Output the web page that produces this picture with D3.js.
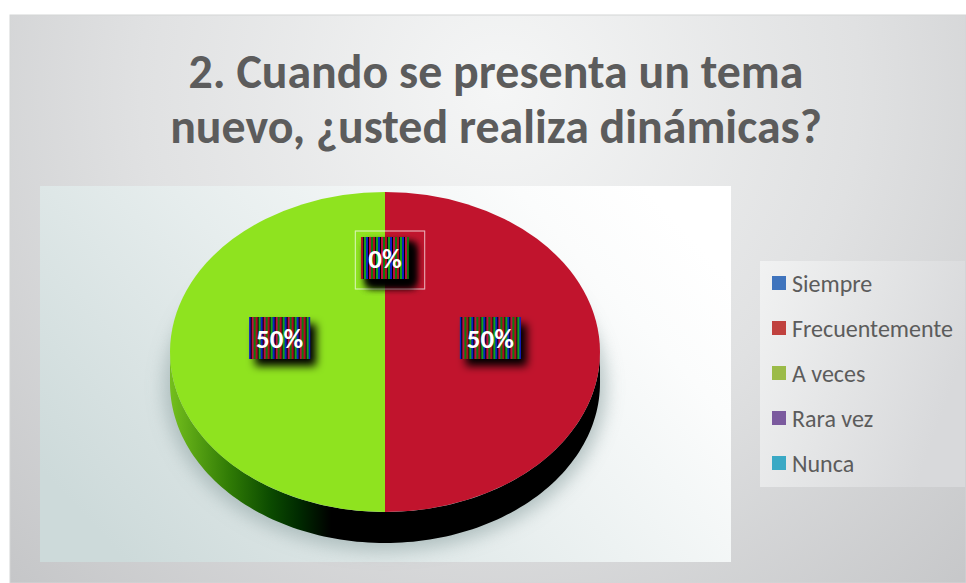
<!DOCTYPE html>
<html>
<head>
<meta charset="utf-8">
<title>Cuando se presenta un tema nuevo</title>
<script src="https://d3js.org/d3.v7.min.js"></script>
<style>
  html, body { margin: 0; padding: 0; background: #ffffff; }
  svg { display: block; }
</style>
</head>
<body>
<div id="chart"></div>
<script>
// chart data
const categories = ["Siempre", "Frecuentemente", "A veces", "Rara vez", "Nunca"];
const values = [0, 50, 50, 0, 0];
const percentLabels = ["0%", "50%", "50%", "0%", "0%"];
const legendColors = ["#3f74bd", "#c0413e", "#9bbb48", "#7b5a9e", "#3aa9c5"];
const sliceColors = ["#3f74bd", "#c1142d", "#8fe31f", "#7b5a9e", "#3aa9c5"];
const titleLines = ["2. Cuando se presenta un tema", "nuevo, ¿usted realiza dinámicas?"];

const W = 966, H = 583;
const cx = 385, cy = 352, rx = 215, ry = 160, depth = 31;
const font = "Carlito, Lato, 'Open Sans', sans-serif";

const svg = d3.select("#chart").append("svg")
  .attr("width", W).attr("height", H);
const defs = svg.append("defs");

// background gradients
const bg = defs.append("radialGradient").attr("id", "bgGrad")
  .attr("gradientUnits", "userSpaceOnUse")
  .attr("cx", 500).attr("cy", 90).attr("r", 720);
bg.append("stop").attr("offset", 0).attr("stop-color", "#f5f6f6");
bg.append("stop").attr("offset", 0.5).attr("stop-color", "#e0e1e2");
bg.append("stop").attr("offset", 1).attr("stop-color", "#c3c4c6");

const plotGrad = defs.append("linearGradient").attr("id", "plotGrad")
  .attr("x1", 0).attr("y1", 0.75).attr("x2", 1).attr("y2", 0.25);
plotGrad.append("stop").attr("offset", 0).attr("stop-color", "#cddada");
plotGrad.append("stop").attr("offset", 0.45).attr("stop-color", "#e6eded");
plotGrad.append("stop").attr("offset", 0.85).attr("stop-color", "#fbfcfc");
plotGrad.append("stop").attr("offset", 1).attr("stop-color", "#ffffff");

const legGrad = defs.append("linearGradient").attr("id", "legGrad")
  .attr("x1", 0).attr("y1", 0).attr("x2", 1).attr("y2", 0.4);
legGrad.append("stop").attr("offset", 0).attr("stop-color", "#f1f2f2");
legGrad.append("stop").attr("offset", 1).attr("stop-color", "#d8d9db");

const sideGreen = defs.append("linearGradient").attr("id", "sideGreen")
  .attr("gradientUnits", "userSpaceOnUse")
  .attr("x1", cx - rx).attr("y1", 0).attr("x2", cx).attr("y2", 0);
[[0, "#74bf1d"], [0.28, "#2f7a05"], [0.47, "#0b4a00"], [0.6, "#002a00"], [0.75, "#000000"], [1, "#000000"]]
  .forEach(s => sideGreen.append("stop").attr("offset", s[0]).attr("stop-color", s[1]));

// striped label background
const pat = defs.append("pattern").attr("id", "stripes")
  .attr("patternUnits", "userSpaceOnUse").attr("width", 12).attr("height", 4);
[["#b0101a", 0], ["#10101a", 2], ["#12a012", 3], ["#1020c0", 5], ["#000000", 7], ["#c01040", 8], ["#0a7a10", 10]]
  .forEach(s => pat.append("rect").attr("x", s[1]).attr("y", 0).attr("width", 2).attr("height", 4).attr("fill", s[0]));

const blur = defs.append("filter").attr("id", "pieShadow")
  .attr("x", "-20%").attr("y", "-20%").attr("width", "140%").attr("height", "140%");
blur.append("feGaussianBlur").attr("stdDeviation", 9);

const lblShadow = defs.append("filter").attr("id", "lblShadow")
  .attr("x", "-30%").attr("y", "-30%").attr("width", "170%").attr("height", "170%");
lblShadow.append("feDropShadow").attr("dx", 6).attr("dy", 7)
  .attr("stdDeviation", 4).attr("flood-color", "#000").attr("flood-opacity", 1);

// chart area
svg.append("rect").attr("x", 10).attr("y", 15).attr("width", W - 10).attr("height", H - 15)
  .attr("fill", "url(#bgGrad)").attr("stroke", "#d4d5d6").attr("stroke-width", 1);

// title
const title = svg.append("text")
  .attr("text-anchor", "middle")
  .attr("fill", "#5c5c5c")
  .style("font-family", font)
  .style("font-weight", "bold")
  .style("font-size", "44px");
titleLines.forEach((t, i) => {
  title.append("tspan").attr("x", 496).attr("y", 88 + i * 55).text(t);
});
// fit the second line to the reference width
const t2 = title.selectAll("tspan").nodes()[1];
title.style("font-size", (44 * 652 / t2.getComputedTextLength()).toFixed(1) + "px");

// plot area
svg.append("rect").attr("x", 40).attr("y", 186).attr("width", 691).attr("height", 376)
  .attr("fill", "url(#plotGrad)");

// pie
const pie = d3.pie().sort(null).value(d => d);
const arcs = pie(values);

// soft shadow under the pie
svg.append("ellipse").attr("cx", cx).attr("cy", cy + depth + 4)
  .attr("rx", rx + 6).attr("ry", ry + 4)
  .attr("fill", "#9fb1b1").attr("opacity", 0.75)
  .attr("filter", "url(#pieShadow)");

function ex(a, r) { return cx + r * rx * Math.sin(a); }
function ey(a, r) { return cy - r * ry * Math.cos(a); }

// visible side walls (front half: angles PI/2 .. 3PI/2)
const sideFill = ["#000000", "#000000", "url(#sideGreen)", "#000000", "#000000"];
arcs.forEach((d, i) => {
  const a0 = Math.max(d.startAngle, Math.PI / 2);
  const a1 = Math.min(d.endAngle, 3 * Math.PI / 2);
  if (a1 <= a0) return;
  const steps = d3.range(0, 61).map(k => a0 + (a1 - a0) * k / 60);
  const top = steps.map(a => [ex(a, 1), ey(a, 1)]);
  const bot = steps.slice().reverse().map(a => [ex(a, 1), ey(a, 1) + depth]);
  svg.append("path")
    .attr("d", d3.line()(top.concat(bot)) + "Z")
    .attr("fill", sideFill[i]);
});

// top surface
const arc = d3.arc().innerRadius(0).outerRadius(rx);
svg.append("g")
  .attr("transform", `translate(${cx},${cy}) scale(1,${ry / rx})`)
  .selectAll("path").data(arcs).join("path")
  .attr("d", arc)
  .attr("fill", (d, i) => sliceColors[i]);

// data labels
const labels = svg.append("g")
  .style("font-family", font)
  .style("font-weight", "bold")
  .style("font-size", "27px");
arcs.forEach((d, i) => {
  const a = (d.startAngle + d.endAngle) / 2;
  const lx = ex(a, 0.49), ly = ey(a, 0.5) - 14;
  const g = labels.append("g").attr("transform", `translate(${lx},${ly})`);
  const txt = g.append("text").attr("text-anchor", "middle").attr("dy", "0.36em")
    .attr("fill", "#ffffff").text(percentLabels[i]);
  const tw = txt.node().getComputedTextLength();
  const bw = tw + 14, bh = 42;
  if (values[i] === 0) {
    g.insert("rect", "text").attr("x", -bw / 2 - 6).attr("y", -bh / 2 - 6)
      .attr("width", bw + 22).attr("height", bh + 16)
      .attr("fill", "none").attr("stroke", "#ffffff").attr("stroke-opacity", 0.3);
  }
  g.insert("rect", "text").attr("x", -bw / 2).attr("y", -bh / 2)
    .attr("width", bw).attr("height", bh)
    .attr("fill", "url(#stripes)").attr("filter", "url(#lblShadow)");
});

// legend
svg.append("rect").attr("x", 760).attr("y", 261).attr("width", 205).attr("height", 226)
  .attr("fill", "url(#legGrad)");
const leg = svg.append("g").selectAll("g").data(categories).join("g")
  .attr("transform", (d, i) => `translate(772,${283 + i * 45})`);
leg.append("rect").attr("x", 0).attr("y", -7).attr("width", 14).attr("height", 14)
  .attr("fill", (d, i) => legendColors[i]);
const legText = leg.append("text").attr("x", 20).attr("dy", "0.36em")
  .attr("fill", "#5c5c5c")
  .style("font-family", font)
  .style("font-size", "20px")
  .text(d => d);
// fit "Frecuentemente" to the reference width
const wf = legText.nodes()[1].getComputedTextLength();
legText.style("font-size", (20 * 161 / wf).toFixed(1) + "px");
</script>
</body>
</html>
